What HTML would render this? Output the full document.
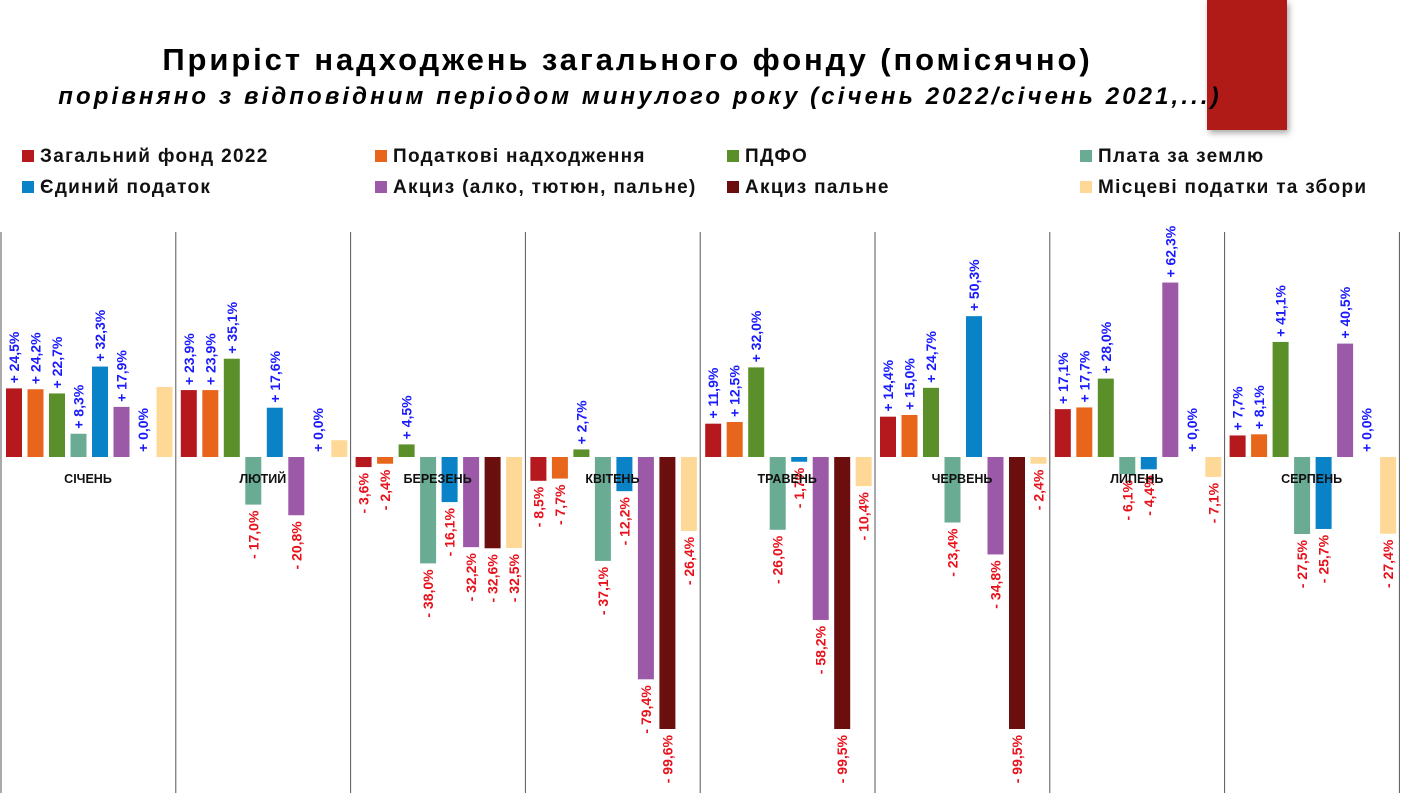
<!DOCTYPE html>
<html><head><meta charset="utf-8">
<style>
html,body{margin:0;padding:0;background:#fff;}
body{width:1410px;height:793px;overflow:hidden;position:relative;font-family:"Liberation Sans","DejaVu Sans",sans-serif;}
.t1{position:absolute;left:0;width:1255px;text-align:center;top:42px;font-size:31px;font-weight:bold;color:#000;letter-spacing:2.9px;}
.t2{position:absolute;left:0;width:1280px;text-align:center;top:83px;font-size:24px;font-weight:bold;font-style:italic;color:#000;letter-spacing:3.1px;}
.red{position:absolute;left:1207px;top:0;width:80px;height:130px;background:#b01a17;box-shadow:2px 3px 6px rgba(0,0,0,.35);}
.lg{position:absolute;font-size:19px;font-weight:bold;color:#111;white-space:nowrap;letter-spacing:1.3px;}
.lg i{display:inline-block;width:12px;height:12px;margin-right:6px;vertical-align:0px;}
</style></head><body>
<div class="red"></div>
<div class="t1">Приріст надходжень загального фонду (помісячно)</div>
<div class="t2">порівняно з відповідним періодом минулого року (січень 2022/січень 2021,...)</div>
<div class="lg" style="left:22px;top:146px"><i style="background:#b5191d"></i>Загальний фонд 2022</div>
<div class="lg" style="left:375px;top:146px"><i style="background:#e8661b"></i>Податкові надходження</div>
<div class="lg" style="left:727px;top:146px"><i style="background:#5a8f2a"></i>ПДФО</div>
<div class="lg" style="left:1080px;top:146px"><i style="background:#6aab94"></i>Плата за землю</div>
<div class="lg" style="left:22px;top:177px"><i style="background:#0a82c8"></i>Єдиний податок</div>
<div class="lg" style="left:375px;top:177px"><i style="background:#9b59a8"></i>Акциз (алко, тютюн, пальне)</div>
<div class="lg" style="left:727px;top:177px"><i style="background:#6b0e0e"></i>Акциз пальне</div>
<div class="lg" style="left:1080px;top:177px"><i style="background:#fdd896"></i>Місцеві податки та збори</div>
<svg id="c" width="1410" height="793" style="position:absolute;left:0;top:0"></svg>
<script>
var colors=["#b5191d","#e8661b","#5a8f2a","#6aab94","#0a82c8","#9b59a8","#6b0e0e","#fdd896"];
var months=["СІЧЕНЬ","ЛЮТИЙ","БЕРЕЗЕНЬ","КВІТЕНЬ","ТРАВЕНЬ","ЧЕРВЕНЬ","ЛИПЕНЬ","СЕРПЕНЬ"];
var d=[
[24.5,24.2,22.7,8.3,32.3,17.9,0.0,25],
[23.9,23.9,35.1,-17.0,17.6,-20.8,0.0,6],
[-3.6,-2.4,4.5,-38.0,-16.1,-32.2,-32.6,-32.5],
[-8.5,-7.7,2.7,-37.1,-12.2,-79.4,-99.6,-26.4],
[11.9,12.5,32.0,-26.0,-1.7,-58.2,-99.5,-10.4],
[14.4,15.0,24.7,-23.4,50.3,-34.8,-99.5,-2.4],
[17.1,17.7,28.0,-6.1,-4.4,62.3,0.0,-7.1],
[7.7,8.1,41.1,-27.5,-25.7,40.5,0.0,-27.4]];
var nolab=[[7],[7],[],[],[],[],[],[]];
var s="",Z=457,K=2.8;
for(var g=0;g<=8;g++){var x=1+g*174.8;s+='<line x1="'+x+'" y1="232" x2="'+x+'" y2="793" stroke="#555" stroke-width="1"/>';}
for(var g=0;g<8;g++){
 var gx=1+g*174.8;
 for(var b=0;b<8;b++){
  var v=d[g][b],x=gx+5+b*21.5,w=16,cx=x+w/2;
  var h=Math.min(Math.abs(v)*K,272);
  if(v>0)s+='<rect x="'+x+'" y="'+(Z-h)+'" width="'+w+'" height="'+h+'" fill="'+colors[b]+'"/>';
  else if(v<0)s+='<rect x="'+x+'" y="'+Z+'" width="'+w+'" height="'+h+'" fill="'+colors[b]+'"/>';
  if(nolab[g].indexOf(b)>=0)continue;
  var txt=(v>=0?"+ ":"- ")+Math.abs(v).toFixed(1).replace(".",",")+"%";
  if(v>=0){var y=Z-h-5;
   s+='<text transform="translate('+(cx+5)+','+y+') rotate(-90)" font-size="14" font-weight="bold" fill="#1a1aff" text-anchor="start">'+txt+'</text>';}
  else{var y=Z+h+6;
   s+='<text transform="translate('+(cx+5)+','+y+') rotate(-90)" font-size="14" font-weight="bold" fill="#e8101a" text-anchor="end">'+txt+'</text>';}
 }
 s+='<text x="'+(gx+87)+'" y="483" font-size="12.5" font-weight="bold" fill="#111" text-anchor="middle">'+months[g]+'</text>';
}
document.getElementById("c").innerHTML=s;
</script>
</body></html>
